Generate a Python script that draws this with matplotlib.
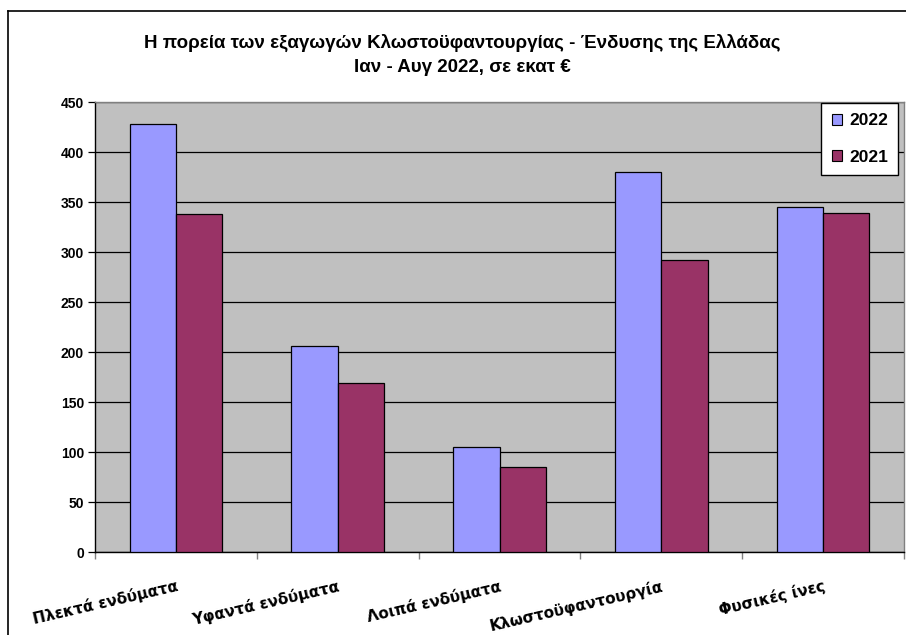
import matplotlib
matplotlib.use("Agg")
import matplotlib.pyplot as plt
import numpy as np
from matplotlib.lines import Line2D
from matplotlib.patches import Patch

categories = ["Πλεκτά ενδύματα", "Υφαντά ενδύματα", "Λοιπά ενδύματα",
              "Κλωστοϋφαντουργία", "Φυσικές ίνες"]
values_2022 = [428, 206, 105, 380, 345]
values_2021 = [338, 169, 85, 292, 339]
series_labels = ["2022", "2021"]
yticks = [0, 50, 100, 150, 200, 250, 300, 350, 400, 450]
title_lines = ["Η πορεία των εξαγωγών Κλωστοϋφαντουργίας - Ένδυσης της Ελλάδας",
               "Ιαν - Αυγ 2022, σε εκατ €"]

c2022 = "#9999FF"
c2021 = "#993366"

W, H = 906, 635
fig = plt.figure(figsize=(W / 100, H / 100), dpi=100)
fig.patch.set_facecolor("white")

# outer chart border
fig.add_artist(Line2D([8 / W, 8 / W], [0, 1 - 11 / H], color="black", lw=1.2,
                      transform=fig.transFigure))
fig.add_artist(Line2D([8 / W, 1], [1 - 11 / H, 1 - 11 / H], color="black", lw=1.2,
                      transform=fig.transFigure))

left, right, top, bottom = 95, 904, 102, 552
ax = fig.add_axes([left / W, (H - bottom) / H, (right - left) / W, (bottom - top) / H])
ax.set_facecolor("#C0C0C0")

n = len(categories)
x = np.arange(n)
bw = 1 / 3.5
ax.bar(x - bw / 2, values_2022, width=bw, color=c2022, edgecolor="black", linewidth=0.9,
       zorder=3, label=series_labels[0])
ax.bar(x + bw / 2, values_2021, width=bw, color=c2021, edgecolor="black", linewidth=0.9,
       zorder=3, label=series_labels[1])

ax.set_xlim(-0.5, n - 0.5)
ax.set_ylim(0, 450)
ax.set_yticks(yticks)
ax.set_yticklabels([str(v) for v in yticks], fontfamily="Liberation Sans",
                   fontweight="bold", fontsize=10)
ax.yaxis.grid(True, color="black", linewidth=0.9, zorder=1)
ax.set_axisbelow(True)
ax.tick_params(axis="y", direction="out", length=5, width=0.9, color="black", pad=3)

# category boundary ticks
ax.set_xticks(np.arange(n + 1) - 0.5)
ax.set_xticklabels([])
ax.tick_params(axis="x", which="major", direction="out", length=5, width=1, color="#808080")
ax.set_xticks(x, minor=True)
ax.set_xticklabels(categories, minor=True, fontfamily="DejaVu Sans", fontweight="bold",
                   fontsize=11, rotation=13, ha="right", va="top", rotation_mode="anchor")
ax.tick_params(axis="x", which="minor", length=0, pad=19)

for s in ["top", "right"]:
    ax.spines[s].set_color("#808080")
for s in ["left", "bottom"]:
    ax.spines[s].set_color("black")
for s in ax.spines.values():
    s.set_linewidth(1)

handles = [Patch(facecolor=c2022, edgecolor="black", linewidth=0.8),
           Patch(facecolor=c2021, edgecolor="black", linewidth=0.8)]
leg = ax.legend(handles, series_labels, loc="upper right",
                bbox_to_anchor=(0.993, 0.998),
                frameon=True, fancybox=False, edgecolor="black", framealpha=1,
                prop={"family": "Liberation Sans", "weight": "bold", "size": 12.5},
                handlelength=0.6, handleheight=0.6, handletextpad=0.4,
                labelspacing=1.25, borderpad=0.6, borderaxespad=0)
leg.get_frame().set_linewidth(1)

fig.text(462 / W, 1 - 43 / H, title_lines[0], ha="center", va="center",
         fontfamily="Liberation Sans", fontweight="bold", fontsize=13.5)
fig.text(462 / W, 1 - 68 / H, title_lines[1], ha="center", va="center",
         fontfamily="Liberation Sans", fontweight="bold", fontsize=13.5)

fig.savefig("out.png", dpi=100)
